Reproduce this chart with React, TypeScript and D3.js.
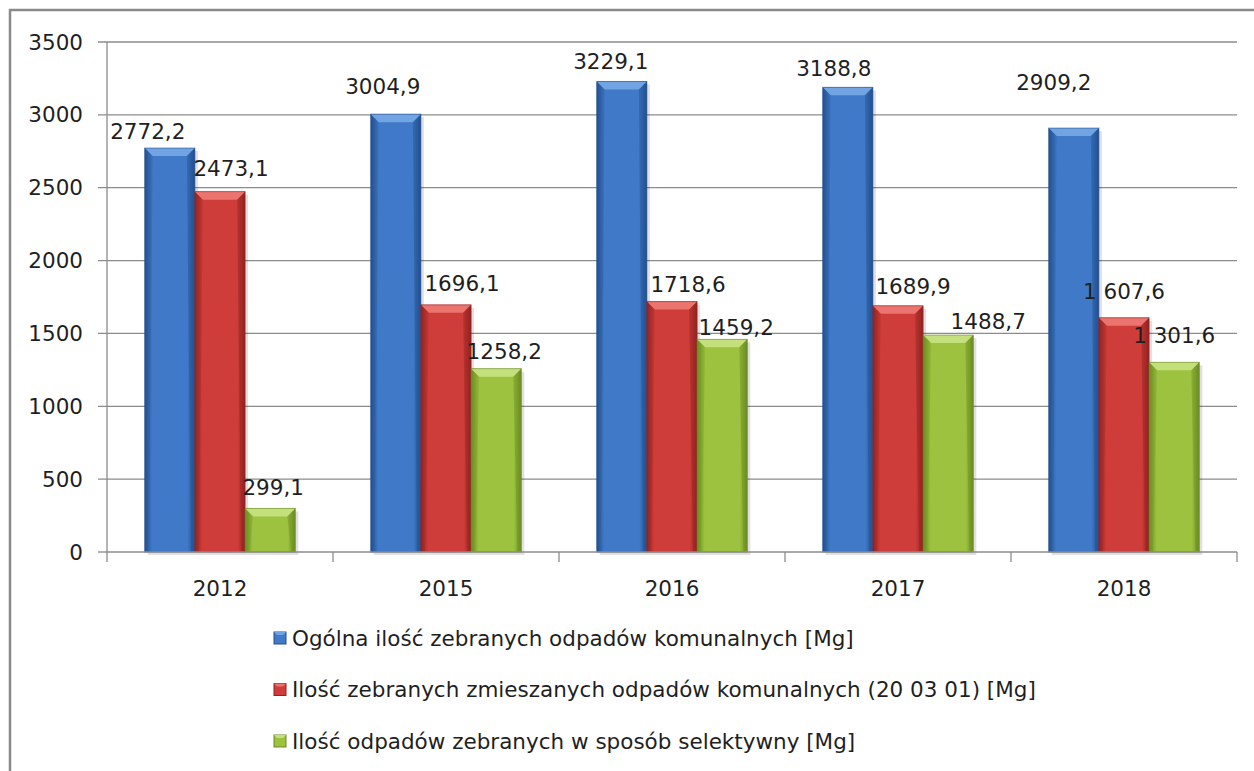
import * as d3 from "d3";

const years = ["2012", "2015", "2016", "2017", "2018"];
const totalWaste = [2772.2, 3004.9, 3229.1, 3188.8, 2909.2];
const mixedWaste = [2473.1, 1696.1, 1718.6, 1689.9, 1607.6];
const selectiveWaste = [299.1, 1258.2, 1459.2, 1488.7, 1301.6];
const yTicks = [0, 500, 1000, 1500, 2000, 2500, 3000, 3500];
const seriesNames = [
  "Ogólna ilość zebranych odpadów komunalnych [Mg]",
  "Ilość zebranych zmieszanych odpadów komunalnych (20 03 01) [Mg]",
  "Ilość odpadów zebranych w sposób selektywny [Mg]",
];

// label nudges (dx from bar centre, dy baseline above bar top)
const labelNudge = [
  [[-22, 9], [-13, 20], [-11, 12], [-14, 11], [-20, 38]],
  [[11, 16], [16, 14], [16, 10], [15, 12], [0, 19]],
  [[3, 13], [8, 10], [14, 4], [40, 6], [0, 19]],
];
// only these labels use a thousands gap in the original
const groupedLabels = ["1-4", "2-4"];

const palette = [
  { base: "#3f79c7", light: "#72a4e4", dark: "#24508f" },
  { base: "#cf3d3a", light: "#ec746f", dark: "#922321" },
  { base: "#9cc23f", light: "#c4e07c", dark: "#6b8c22" },
];

const W = 1254;
const H = 771;
const FONT = "'DejaVu Sans', sans-serif";
const FS = 21.5;
const TEXT = "#1f1f1f";

const plain = d3.formatLocale({ decimal: ",", thousands: "", grouping: [3], currency: ["", ""] }).format(".1f");
const grouped = d3.formatLocale({ decimal: ",", thousands: " ", grouping: [3], currency: ["", ""] }).format(",.1f");

function BevelBar({ x, y, w, h, c, id }: { x: number; y: number; w: number; h: number; c: typeof palette[0]; id: string }) {
  const b = Math.min(8, h / 2);
  return (
    <g>
      <rect x={x + 3} y={y + 3} width={w} height={h} fill="#000" opacity={0.12} />
      <rect x={x} y={y} width={w} height={h} fill={`url(#g-${id})`} />
      <polygon points={`${x},${y} ${x + w},${y} ${x + w - b},${y + b} ${x + b},${y + b}`} fill={c.light} />
      <polygon points={`${x},${y} ${x + b},${y + b} ${x + b * 0.5},${y + h} ${x},${y + h}`} fill={c.dark} opacity={0.2} />
      <polygon points={`${x + w},${y} ${x + w - b},${y + b} ${x + w - b * 0.5},${y + h} ${x + w},${y + h}`} fill={c.dark} opacity={0.4} />
      <rect x={x} y={y} width={w} height={h} fill="none" stroke={c.dark} strokeWidth={1} opacity={0.6} />
    </g>
  );
}

export default function App() {
  const left = 107;
  const right = 1237;
  const top = 42;
  const bottom = 552;

  const x0 = d3.scaleBand().domain(years).range([left, right]).paddingInner(0).paddingOuter(0);
  const series = [totalWaste, mixedWaste, selectiveWaste];
  const bw = x0.bandwidth();
  const x1 = d3
    .scaleBand<number>()
    .domain([0, 1, 2])
    .range([bw / 6, (bw * 5) / 6])
    .padding(0);
  const y = d3.scaleLinear().domain([0, 3500]).range([bottom, top]);

  return (
    <svg width={W} height={H} style={{ position: "absolute", left: 0, top: 0, display: "block", background: "#fff" }}>
      <defs>
        {palette.map((c, i) => (
          <linearGradient key={i} id={`g-${i}`} x1="0" x2="1" y1="0" y2="0">
            <stop offset="0" stopColor={c.dark} />
            <stop offset="0.15" stopColor={c.base} />
            <stop offset="0.85" stopColor={c.base} />
            <stop offset="1" stopColor={c.dark} />
          </linearGradient>
        ))}
      </defs>

      <rect x={10} y={10} width={W + 20} height={H + 20} fill="none" stroke="#8a8a8a" strokeWidth={2.5} />

      {/* gridlines + y ticks */}
      {yTicks.map((t) => (
        <g key={t}>
          <line x1={left - 9} x2={t === 0 ? left : right} y1={y(t)} y2={y(t)} stroke="#8c8c8c" strokeWidth={1.3} />
          <text x={83} y={y(t)} dy="0.35em" textAnchor="end" fontFamily={FONT} fontSize={FS} fill={TEXT}>
            {t}
          </text>
        </g>
      ))}
      <line x1={left} x2={left} y1={top} y2={bottom} stroke="#8c8c8c" strokeWidth={1.3} />

      {/* bars */}
      {series.map((vals, s) =>
        vals.map((v, i) => {
          const bx = (x0(years[i]) ?? 0) + (x1(s) ?? 0);
          return <BevelBar key={`${s}-${i}`} x={bx} y={y(v)} w={x1.bandwidth()} h={y(0) - y(v)} c={palette[s]} id={String(s)} />;
        })
      )}

      {/* x axis */}
      <line x1={left} x2={right} y1={bottom} y2={bottom} stroke="#8c8c8c" strokeWidth={1.3} />
      {[...years.map((yr) => x0(yr) ?? 0), right].map((bx, i) => (
        <line key={i} x1={bx} x2={bx} y1={bottom} y2={bottom + 10} stroke="#8c8c8c" strokeWidth={1.3} />
      ))}
      {years.map((yr) => (
        <text key={yr} x={(x0(yr) ?? 0) + bw / 2} y={596} textAnchor="middle" fontFamily={FONT} fontSize={FS} fill={TEXT}>
          {yr}
        </text>
      ))}

      {/* value labels */}
      {series.map((vals, s) =>
        vals.map((v, i) => {
          const cx = (x0(years[i]) ?? 0) + (x1(s) ?? 0) + x1.bandwidth() / 2;
          const [dx, dy] = labelNudge[s][i];
          const label = groupedLabels.includes(`${s}-${i}`) ? grouped(v) : plain(v);
          return (
            <text key={`l-${s}-${i}`} x={cx + dx} y={y(v) - dy} textAnchor="middle" fontFamily={FONT} fontSize={FS} fill={TEXT}>
              {label}
            </text>
          );
        })
      )}

      {/* legend */}
      {seriesNames.map((name, s) => {
        const ly = 638 + s * 51.5;
        const c = palette[s];
        return (
          <g key={name}>
            <rect x={274} y={ly - 6} width={12} height={12} fill={c.base} stroke={c.dark} strokeWidth={1} />
            <polygon points={`${274},${ly - 6} ${286},${ly - 6} ${283},${ly - 3} ${277},${ly - 3}`} fill={c.light} />
            <text x={292} y={ly} dy="0.35em" fontFamily={FONT} fontSize={FS} fill={TEXT}>
              {name}
            </text>
          </g>
        );
      })}
    </svg>
  );
}
